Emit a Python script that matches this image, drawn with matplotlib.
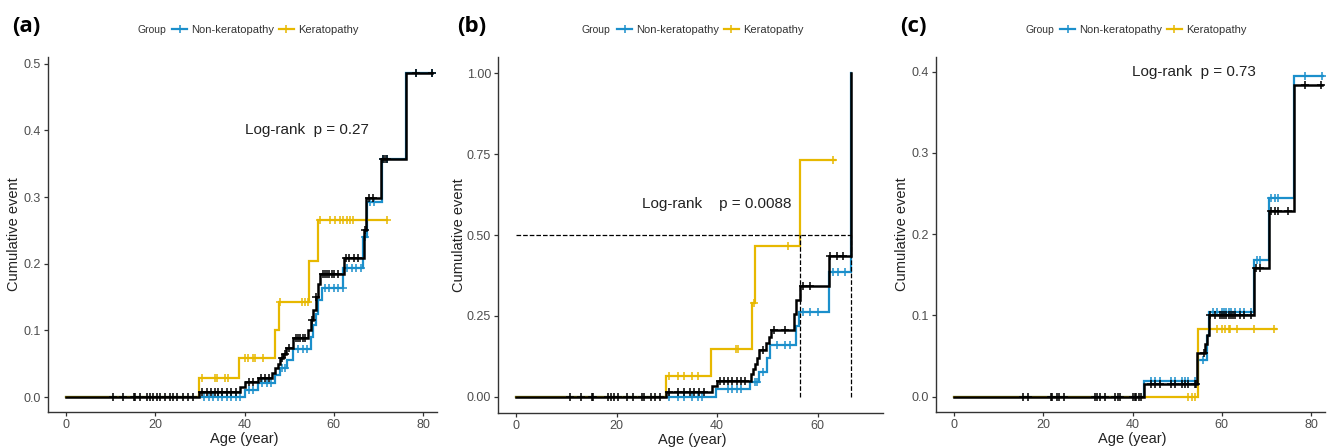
import numpy as np
import matplotlib
matplotlib.use("Agg")
import matplotlib.pyplot as plt
from matplotlib.lines import Line2D

plt.rcParams["font.family"] = ["Liberation Sans", "DejaVu Sans"]

BLUE = "#1B8FCB"
YELLOW = "#E7B800"
BLACK = "#000000"

# ── Panel (a) ─────────────────────────────────────────────────────────────
a_all_t = [0, 29.8, 39.0, 40.1, 43.1, 46.1, 46.8, 47.4, 48.0, 48.6, 49.4, 50.9,
           54.3, 54.9, 55.4, 55.9, 56.4, 56.9, 62.2, 66.8, 67.3, 70.6, 76.2]
a_all_y = [0, 0.008, 0.015, 0.023, 0.029, 0.036, 0.043, 0.050, 0.058, 0.065, 0.073,
           0.088, 0.101, 0.115, 0.130, 0.150, 0.170, 0.185, 0.209, 0.250, 0.298,
           0.357, 0.486]
a_all_end = 82.0
a_all_cens = [10.6, 12.8, 15.3, 15.4, 16.6, 18.1, 18.8, 19.6, 20.3, 21.1, 22.2, 23.3,
              24.1, 24.8, 26.3, 27.4, 28.5, 30.5, 31.5, 32.5, 33.5, 34.0, 35.0, 36.0,
              37.0, 38.0, 41.0, 42.0, 43.8, 44.5, 45.5, 48.3, 49.0, 50.0, 51.5, 52.0,
              52.5, 53.0, 53.5, 55.2, 56.0, 57.5, 58.0, 58.5, 59.0, 59.5, 60.0, 61.0,
              62.8, 63.5, 64.5, 65.5, 67.0, 67.8, 68.7, 71.0, 71.5, 72.0, 78.5, 82.0]

a_non_t = [0, 40.1, 43.1, 46.8, 48.0, 49.5, 50.9, 54.9, 55.4, 55.9, 56.5, 57.3,
           62.1, 66.6, 67.4, 70.8, 76.2]
a_non_y = [0, 0.011, 0.021, 0.033, 0.044, 0.055, 0.072, 0.090, 0.108, 0.125, 0.145,
           0.163, 0.193, 0.240, 0.293, 0.357, 0.486]
a_non_end = 82.0
a_non_cens = [31.0, 32.0, 33.0, 34.0, 35.0, 36.0, 37.0, 38.0, 39.0, 41.0, 42.0,
              44.0, 45.0, 46.0, 48.5, 49.0, 52.0, 53.0, 54.0, 58.0, 59.0, 60.0, 61.0,
              62.0, 63.0, 64.0, 65.0, 66.0, 67.0, 68.0, 69.0, 71.0, 72.0, 78.5, 82.0]

a_ker_t = [0, 29.8, 38.8, 46.8, 47.7, 54.5, 56.5]
a_ker_y = [0, 0.028, 0.059, 0.100, 0.143, 0.204, 0.266]
a_ker_end = 72.0
a_ker_cens = [30.5, 33.4, 33.9, 35.6, 36.3, 40.1, 40.8, 41.9, 42.4, 44.2, 47.9, 52.9,
              53.6, 54.3, 57.0, 59.2, 60.3, 61.4, 62.1, 63.0, 63.6, 64.3, 71.9]

# ── Panel (b) ─────────────────────────────────────────────────────────────
b_all_t = [0, 29.8, 38.9, 39.9, 46.8, 47.2, 47.6, 48.0, 48.3, 49.7, 50.3, 50.7,
           55.2, 55.6, 56.5, 62.3, 66.7]
b_all_y = [0, 0.016, 0.033, 0.050, 0.070, 0.085, 0.100, 0.120, 0.145, 0.165, 0.185,
           0.206, 0.255, 0.299, 0.343, 0.434, 1.0]
b_all_end = 66.7
b_all_cens = [10.7, 12.9, 15.2, 15.3, 18.2, 18.8, 19.5, 20.3, 22.0, 23.3, 25.0, 25.5,
              26.8, 27.6, 28.6, 30.4, 32.3, 33.5, 34.6, 35.4, 36.4, 37.4, 40.6, 41.4,
              42.2, 43.0, 43.9, 44.7, 45.5, 49.2, 51.4, 53.5, 57.0, 58.4, 62.4, 63.8,
              65.1]

b_non_t = [0, 39.7, 46.6, 48.4, 49.9, 50.5, 55.7, 56.2, 62.3, 66.7]
b_non_y = [0, 0.024, 0.047, 0.078, 0.120, 0.160, 0.220, 0.263, 0.386, 1.0]
b_non_end = 66.7
b_non_cens = [30.4, 32.3, 33.5, 35.0, 36.1, 36.9, 42.2, 43.0, 43.9, 44.7, 47.5, 48.0,
              49.2, 52.0, 53.5, 54.5, 57.0, 58.5, 60.0, 63.0, 64.0, 65.5]

b_ker_t = [0, 29.8, 38.8, 46.9, 47.5, 56.4]
b_ker_y = [0, 0.065, 0.148, 0.290, 0.466, 0.733]
b_ker_end = 63.4
b_ker_cens = [30.4, 32.3, 33.5, 34.9, 36.1, 43.7, 44.2, 47.3, 54.1, 63.1]

b_median_level = 0.5
b_median_times = [56.4, 66.7]

# ── Panel (c) ─────────────────────────────────────────────────────────────
c_all_t = [0, 42.6, 54.5, 56.3, 56.7, 57.1, 67.2, 70.5, 76.2]
c_all_y = [0, 0.015, 0.054, 0.065, 0.076, 0.100, 0.158, 0.229, 0.383]
c_all_end = 82.5
c_all_cens = [15.5, 16.6, 21.7, 22.0, 23.2, 23.5, 24.6, 31.7, 32.1, 32.7, 33.8, 36.0,
              36.8, 37.3, 40.1, 40.5, 40.8, 41.4, 42.0, 44.2, 45.0, 46.1, 48.7, 49.5,
              51.0, 51.7, 52.4, 53.9, 54.3, 56.0, 57.3, 58.5, 59.5, 60.0, 60.5, 61.0,
              61.5, 62.0, 62.5, 63.0, 64.0, 65.0, 66.5, 67.7, 68.5, 71.1, 71.9, 72.6,
              74.8, 78.6, 82.3]

c_non_t = [0, 42.6, 54.7, 56.6, 57.1, 67.2, 70.5, 76.2]
c_non_y = [0, 0.0195, 0.045, 0.075, 0.104, 0.168, 0.244, 0.395]
c_non_end = 82.7
c_non_cens = [44.2, 45.0, 46.1, 48.7, 49.5, 51.0, 51.7, 52.4, 53.9, 55.8, 58.0, 59.0,
              60.0, 60.5, 61.0, 61.5, 62.0, 63.0, 64.0, 65.0, 66.5, 67.8, 68.5, 71.1,
              71.9, 72.6, 78.6, 82.5]

c_ker_t = [0, 54.7]
c_ker_y = [0, 0.083]
c_ker_end = 72.2
c_ker_cens = [52.5, 53.3, 54.0, 58.9, 60.0, 60.7, 61.5, 61.9, 63.4, 67.1, 71.6]

panel_labels = ["(a)", "(b)", "(c)"]
pvalue_texts = ["Log-rank  p = 0.27", "Log-rank    p = 0.0088", "Log-rank  p = 0.73"]
group_names = ["Non-keratopathy", "Keratopathy"]


def draw_curve(ax, t, y, end, cens, color, lw=1.6, z=2):
    t = np.asarray(t, float)
    y = np.asarray(y, float)
    ax.step(np.r_[t, end], np.r_[y, y[-1]], where="post", color=color, lw=lw,
            zorder=z, solid_joinstyle="miter")
    cens = np.asarray(cens, float)
    idx = np.searchsorted(t, cens, side="right") - 1
    ax.plot(cens, y[idx], ls="none", marker="+", color=color, ms=6, mew=1.1,
            zorder=z)


def style_axes(ax, xlim, ylim, xticks, yticks, yfmt):
    ax.set_xlim(*xlim)
    ax.set_ylim(*ylim)
    ax.set_xticks(xticks)
    ax.set_yticks(yticks)
    ax.set_yticklabels([yfmt.format(v) for v in yticks])
    for s in ("top", "right"):
        ax.spines[s].set_visible(False)
    for s in ("left", "bottom"):
        ax.spines[s].set_color("#333333")
        ax.spines[s].set_linewidth(1.0)
    ax.tick_params(axis="both", colors="#333333", labelcolor="#4D4D4D",
                   labelsize=9, length=3, width=0.9, pad=2)
    ax.set_xlabel("Age (year)", fontsize=10.5, color="#222222")
    ax.set_ylabel("Cumulative event", fontsize=10.5, color="#222222")


W, H = 1333, 448
fig = plt.figure(figsize=(W / 100, H / 100), dpi=100)

# axes boxes in pixels: left, right, top, bottom
boxes = [(48, 437, 57, 412), (498, 883, 57, 413), (936, 1325, 57, 412)]
origins = [0, 445, 888]
axes = []
for (l, r, t, b) in boxes:
    axes.append(fig.add_axes([l / W, 1 - b / H, (r - l) / W, (b - t) / H]))

# (a)
ax = axes[0]
draw_curve(ax, a_non_t, a_non_y, a_non_end, a_non_cens, BLUE)
draw_curve(ax, a_ker_t, a_ker_y, a_ker_end, a_ker_cens, YELLOW)
draw_curve(ax, a_all_t, a_all_y, a_all_end, a_all_cens, BLACK, lw=1.8, z=3)
style_axes(ax, (-4.0, 83.1), (-0.0225, 0.51), [0, 20, 40, 60, 80],
           [0.0, 0.1, 0.2, 0.3, 0.4, 0.5], "{:.1f}")
ax.text(40.1, 0.40, pvalue_texts[0], fontsize=11, color="#222222", va="center")

# (b)
ax = axes[1]
draw_curve(ax, b_non_t, b_non_y, b_non_end, b_non_cens, BLUE)
draw_curve(ax, b_ker_t, b_ker_y, b_ker_end, b_ker_cens, YELLOW)
draw_curve(ax, b_all_t, b_all_y, b_all_end, b_all_cens, BLACK, lw=1.8, z=3)
ax.plot([0, max(b_median_times)], [b_median_level] * 2, ls="--", color=BLACK,
        lw=0.9, zorder=4)
for m in b_median_times:
    ax.plot([m, m], [0, b_median_level], ls="--", color=BLACK, lw=0.9, zorder=4)
style_axes(ax, (-3.6, 73.0), (-0.05, 1.05), [0, 20, 40, 60],
           [0.0, 0.25, 0.5, 0.75, 1.0], "{:.2f}")
ax.text(25.0, 0.597, pvalue_texts[1], fontsize=11, color="#222222", va="center")

# (c)
ax = axes[2]
draw_curve(ax, c_non_t, c_non_y, c_non_end, c_non_cens, BLUE)
draw_curve(ax, c_ker_t, c_ker_y, c_ker_end, c_ker_cens, YELLOW)
draw_curve(ax, c_all_t, c_all_y, c_all_end, c_all_cens, BLACK, lw=1.8, z=3)
style_axes(ax, (-4.0, 83.1), (-0.019, 0.418), [0, 20, 40, 60, 80],
           [0.0, 0.1, 0.2, 0.3, 0.4], "{:.1f}")
ax.text(39.9, 0.40, pvalue_texts[2], fontsize=11, color="#222222", va="center")

axes[0].yaxis.set_label_coords(-0.069, 0.5)
axes[1].yaxis.set_label_coords(-0.083, 0.5)
axes[2].yaxis.set_label_coords(-0.069, 0.5)
for ax in axes:
    ax.xaxis.set_label_coords(0.505, -0.057)

# panel letters + legends on top
handles = [Line2D([], [], color=BLUE, marker="+", lw=1.6, ms=6, mew=1.1),
           Line2D([], [], color=YELLOW, marker="+", lw=1.6, ms=6, mew=1.1)]
for ox, lab in zip(origins, panel_labels):
    fig.text((ox + 12) / W, 1 - 27 / H, lab, fontsize=16, fontweight="bold",
             family="Open Sans", va="center", ha="left")
    fig.text((ox + 137) / W, 1 - 30 / H, "Group", fontsize=7.5, color="#333333",
             va="center", ha="left")
    fig.legend(handles, group_names, loc="center left", ncol=2,
               bbox_to_anchor=((ox + 172) / W, 1 - 30 / H), frameon=False,
               fontsize=8.0, handlelength=1.35, handletextpad=0.35,
               columnspacing=0.45, borderpad=0, borderaxespad=0,
               labelcolor="#333333")

fig.savefig("out.png", dpi=100)
